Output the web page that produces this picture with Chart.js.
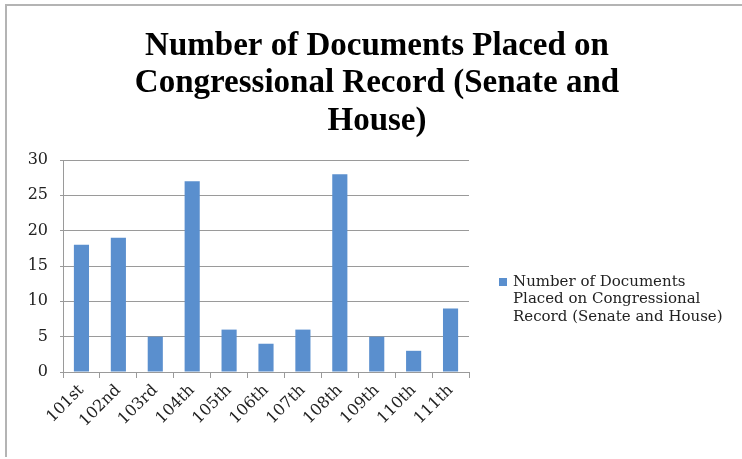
<!DOCTYPE html>
<html>
<head>
<meta charset="utf-8">
<script src="https://cdn.jsdelivr.net/npm/chart.js@4"></script>
<style>
  html, body { margin: 0; padding: 0; background: #fff; }
  #wrap { position: relative; width: 742px; height: 459px; }
  #frame { position: absolute; left: 5px; top: 4px; right: 0; bottom: 2px;
           border-top: 2px solid #b4b4b4; border-left: 2px solid #b4b4b4; }
  canvas { position: absolute; left: 0; top: 0; }
</style>
</head>
<body>
<div id="wrap">
  <div id="frame"></div>
  <canvas id="docsChart" width="742" height="459"></canvas>
</div>
<script>
const congresses = ["101st", "102nd", "103rd", "104th", "105th", "106th",
                    "107th", "108th", "109th", "110th", "111th"];
const documents = [18, 19, 5, 27, 6, 4, 6, 28, 5, 3, 9];
const seriesName = "Number of Documents Placed on Congressional Record (Senate and House)";
const titleLines = ["Number of Documents Placed on",
                    "Congressional Record (Senate and",
                    "House)"];
const legendLines = ["Number of Documents",
                     "Placed on Congressional",
                     "Record (Senate and House)"];

const barBlue = "#5a8fce";
const gridGray = "#9a9a9a";

// title centred on the whole picture, legend with wrapped text on the right
const sideText = {
  id: "sideText",
  afterDraw(chart) {
    const ctx = chart.ctx;
    ctx.save();
    ctx.fillStyle = "#000";
    ctx.font = "bold 33px 'Liberation Serif'";
    ctx.textAlign = "center";
    ctx.textBaseline = "middle";
    titleLines.forEach((line, i) => ctx.fillText(line, 377, 46 + i * 37.5));

    const x = 499, y = 282;
    ctx.fillStyle = barBlue;
    ctx.fillRect(x, y - 4, 8, 8);
    ctx.fillStyle = "#222";
    ctx.font = "15px 'DejaVu Serif'";
    ctx.textAlign = "left";
    legendLines.forEach((line, i) => ctx.fillText(line, x + 14, y + i * 17.5));
    ctx.restore();
  }
};

const data = {
  labels: congresses,
  datasets: [
    {
      label: seriesName,
      data: documents,
      backgroundColor: barBlue,
      barPercentage: 0.41,
      categoryPercentage: 1,
    },
  ],
};

const config = {
  type: "bar",
  data: data,
  options: {
    responsive: false,
    animation: false,
    layout: { padding: { left: 6, right: 273, top: 160, bottom: 0 } },
    plugins: {
      legend: { display: false },
      tooltip: { enabled: false },
      title: { display: false },
    },
    scales: {
      x: {
        grid: { display: true, drawOnChartArea: false, offset: true, color: gridGray, tickLength: 6 },
        border: { color: gridGray, width: 1 },
        ticks: {
          color: "#222",
          font: { family: "'DejaVu Serif'", size: 16 },
          minRotation: 45,
          maxRotation: 45,
          padding: 3,
        },
        afterFit: (s) => { s.height = 87; },
      },
      y: {
        min: 0,
        max: 30,
        grid: { color: gridGray, tickLength: 3 },
        border: { color: gridGray, width: 1 },
        ticks: {
          stepSize: 5,
          color: "#222",
          font: { family: "'DejaVu Serif'", size: 16 },
          padding: 12,
        },
        afterFit: (s) => { s.width = 57; },
      },
    },
  },
  plugins: [sideText],
};

var docs = document.getElementById("docsChart").getContext("2d");
var chart = new Chart(docs, config);
</script>
</body>
</html>
